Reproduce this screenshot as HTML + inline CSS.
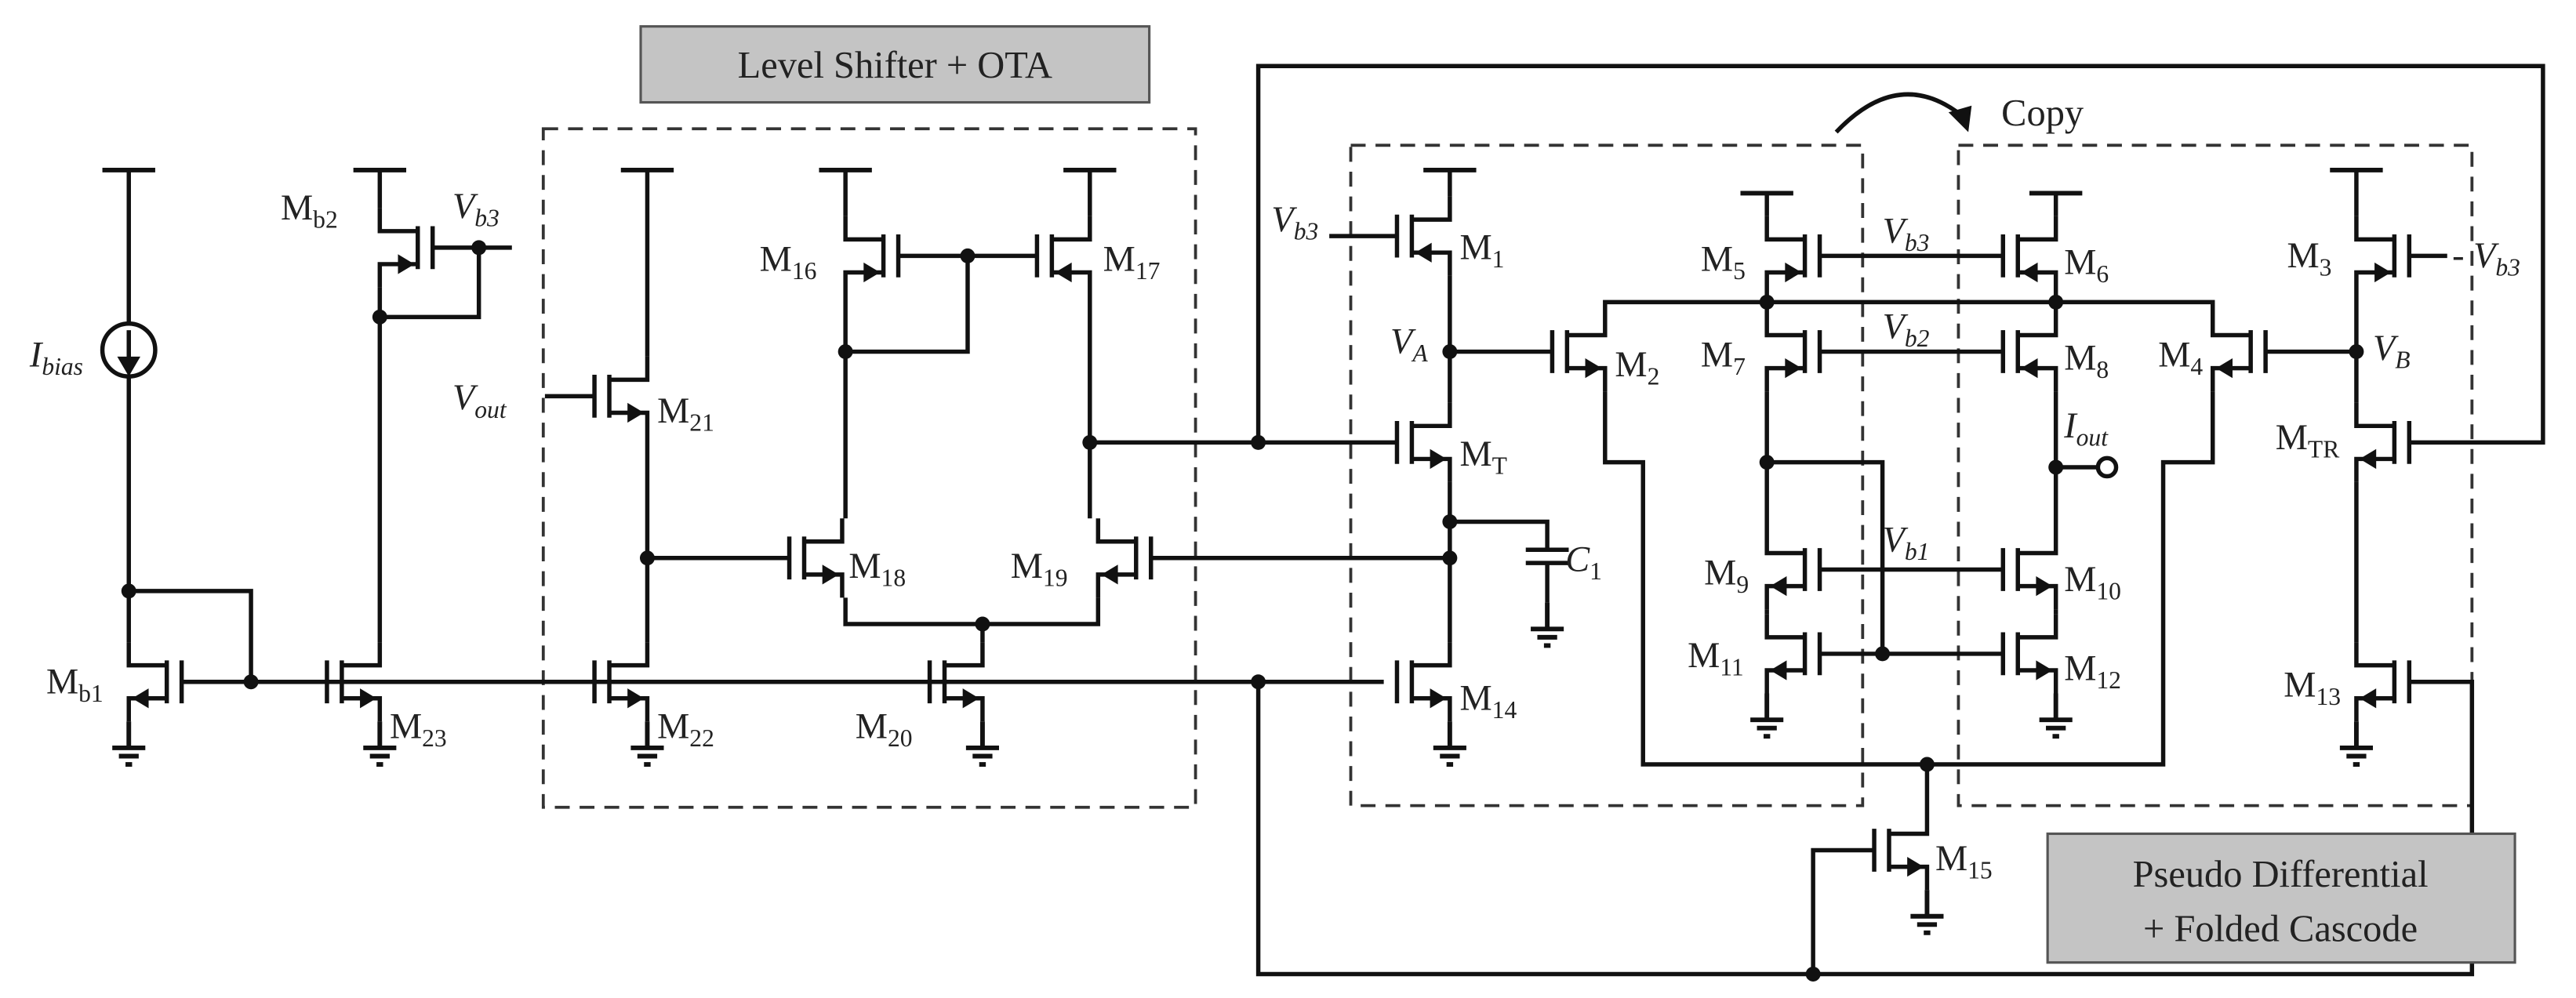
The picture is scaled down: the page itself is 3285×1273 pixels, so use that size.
<!DOCTYPE html>
<html><head><meta charset="utf-8"><style>
html,body{margin:0;padding:0;background:#fff;}
svg{display:block;}
text{font-family:"Liberation Serif",serif;font-size:22px;fill:#222;}
.s{font-size:15px;}
</style></head><body>
<svg width="3285" height="1273" viewBox="0 0 1560 604.5" preserveAspectRatio="none" xmlns="http://www.w3.org/2000/svg">
<defs>
<symbol id="n" overflow="visible"><path d="M0,-13V13M9,-13V13M9,-10H32V-24M9,10H32V24" fill="none" stroke="#111" stroke-width="2.6"/><polygon points="30,10 20,4 20,16" fill="#111"/></symbol>
<symbol id="p" overflow="visible"><path d="M0,-13V13M9,-13V13M9,-10H32V-24M9,10H32V24" fill="none" stroke="#111" stroke-width="2.6"/><polygon points="11,-10 21,-16 21,-4" fill="#111"/></symbol>
<symbol id="g" overflow="visible"><path d="M0,0V16M-10,16H10M-6,21H6M-2,26H2" fill="none" stroke="#111" stroke-width="2.8"/></symbol>
<symbol id="v" overflow="visible"><path d="M-16,0H16" stroke="#111" stroke-width="2.8"/></symbol>
</defs>
<g fill="none" stroke="#111" stroke-width="2.6">
<g stroke-dasharray="9,6" stroke-width="1.8" stroke="#333">
<rect x="329" y="78" width="395" height="411"/>
<rect x="818" y="88" width="310" height="400"/>
<rect x="1186" y="88" width="311" height="400"/>
</g>
<path d="M78,103V196M78,228V389M78,358H152V413M110,413H838"/>
<circle cx="78" cy="212" r="16"/>
<path d="M78,200V220"/>
<path d="M230,103V126M230,174V389M230,192H290V150M262,150H310"/>
<path d="M392,103V216M330,240H360M392,264V389M392,338H478"/>
<path d="M512,131V103M512,179V314M510,213H586V155M544,155H628"/>
<path d="M660,131V103M660,179V314M660,268H846"/>
<path d="M512,362V378H665V362M595,378V389M697,338H880"/>
<path d="M762,268V40H1540V268H1459"/>
<path d="M762,413V590H1497V413H1459"/>
<path d="M1098,590V515H1135"/>
<path d="M878,119V103M805,143H846M878,167V244M878,213H940M878,292V389M878,316H937V333M924,333H950M924,341H950M937,341V365"/>
<path d="M972,189V183H1245M972,237V280H995V463H1310V280H1340V237"/>
<path d="M1070,131V117M1070,179V189M1070,237V321M1070,280H1140V396M1070,369V372"/>
<path d="M1245,131V117M1245,179V189M1245,237V321M1245,283H1270M1245,369V372"/>
<circle cx="1276" cy="283" r="5.5"/>
<path d="M1102,155H1213M1102,213H1213M1102,345H1213M1102,396H1213"/>
<path d="M1340,189V183H1245M1372,213H1427M1427,179V244M1427,131V103M1459,155H1482M1427,292V389"/>
<path d="M1167,463V491"/>
<path d="M1112,80Q1150,40 1188,70"/>
</g>
<polygon points="78,228 71,216 85,216" fill="#111"/>
<polygon points="1192,80 1180,68 1194,64" fill="#111"/>
<use href="#n" transform="translate(110,413) scale(-1,1)"/>
<use href="#n" transform="translate(198,413)"/>
<use href="#p" transform="translate(262,150) scale(-1,-1)"/>
<use href="#n" transform="translate(360,240)"/>
<use href="#n" transform="translate(360,413)"/>
<use href="#p" transform="translate(544,155) scale(-1,-1)"/>
<use href="#p" transform="translate(628,155) scale(1,-1)"/>
<use href="#n" transform="translate(478,338)"/>
<use href="#n" transform="translate(697,338) scale(-1,1)"/>
<use href="#n" transform="translate(563,413)"/>
<use href="#p" transform="translate(846,143) scale(1,-1)"/>
<use href="#n" transform="translate(846,268)"/>
<use href="#n" transform="translate(846,413)"/>
<use href="#n" transform="translate(940,213)"/>
<use href="#p" transform="translate(1102,155) scale(-1,-1)"/>
<use href="#p" transform="translate(1102,213) scale(-1,-1)"/>
<use href="#n" transform="translate(1102,345) scale(-1,1)"/>
<use href="#n" transform="translate(1102,396) scale(-1,1)"/>
<use href="#p" transform="translate(1213,155) scale(1,-1)"/>
<use href="#p" transform="translate(1213,213) scale(1,-1)"/>
<use href="#n" transform="translate(1213,345)"/>
<use href="#n" transform="translate(1213,396)"/>
<use href="#p" transform="translate(1459,155) scale(-1,-1)"/>
<use href="#n" transform="translate(1372,213) scale(-1,1)"/>
<use href="#n" transform="translate(1459,268) scale(-1,1)"/>
<use href="#n" transform="translate(1459,413) scale(-1,1)"/>
<use href="#n" transform="translate(1135,515)"/>
<use href="#v" x="78" y="103"/><use href="#v" x="230" y="103"/><use href="#v" x="392" y="103"/>
<use href="#v" x="512" y="103"/><use href="#v" x="660" y="103"/><use href="#v" x="878" y="103"/>
<use href="#v" x="1070" y="117"/><use href="#v" x="1245" y="117"/><use href="#v" x="1427" y="103"/>
<use href="#g" x="78" y="437"/><use href="#g" x="230" y="437"/><use href="#g" x="392" y="437"/>
<use href="#g" x="595" y="437"/><use href="#g" x="878" y="437"/><use href="#g" x="937" y="365"/>
<use href="#g" x="1070" y="420"/><use href="#g" x="1245" y="420"/><use href="#g" x="1427" y="437"/>
<use href="#g" x="1167" y="539"/>
<g fill="#111">
<circle cx="78" cy="358" r="4.5"/><circle cx="152" cy="413" r="4.5"/><circle cx="230" cy="192" r="4.5"/>
<circle cx="290" cy="150" r="4.5"/><circle cx="392" cy="338" r="4.5"/><circle cx="512" cy="213" r="4.5"/><circle cx="586" cy="155" r="4.5"/>
<circle cx="595" cy="378" r="4.5"/><circle cx="660" cy="268" r="4.5"/><circle cx="762" cy="268" r="4.5"/><circle cx="762" cy="413" r="4.5"/>
<circle cx="878" cy="213" r="4.5"/><circle cx="878" cy="316" r="4.5"/><circle cx="878" cy="338" r="4.5"/>
<circle cx="1070" cy="183" r="4.5"/><circle cx="1245" cy="183" r="4.5"/><circle cx="1070" cy="280" r="4.5"/><circle cx="1245" cy="283" r="4.5"/>
<circle cx="1140" cy="396" r="4.5"/><circle cx="1167" cy="463" r="4.5"/><circle cx="1427" cy="213" r="4.5"/><circle cx="1098" cy="590" r="4.5"/>
</g>
<rect x="388" y="16" width="308" height="46" fill="#c4c4c4" stroke="#555" stroke-width="1.5"/>
<text x="542" y="47" text-anchor="middle" style="font-size:23px">Level Shifter + OTA</text>
<rect x="1240" y="505" width="283" height="78" fill="#c4c4c4" stroke="#555" stroke-width="1.5"/>
<text x="1381" y="537" text-anchor="middle" style="font-size:23px">Pseudo Differential</text>
<text x="1381" y="570" text-anchor="middle" style="font-size:23px">+ Folded Cascode</text>
<text x="1212" y="76" style="font-size:23px">Copy</text>
<text x="28" y="420">M<tspan class="s" dy="5">b1</tspan></text>
<text x="236" y="447">M<tspan class="s" dy="5">23</tspan></text>
<text x="170" y="133">M<tspan class="s" dy="5">b2</tspan></text>
<text x="274" y="132" font-style="italic">V<tspan class="s" dy="5">b3</tspan></text>
<text x="18" y="222" font-style="italic">I<tspan class="s" dy="5">bias</tspan></text>
<text x="274" y="248" font-style="italic">V<tspan class="s" dy="5">out</tspan></text>
<text x="398" y="256">M<tspan class="s" dy="5">21</tspan></text>
<text x="398" y="447">M<tspan class="s" dy="5">22</tspan></text>
<text x="460" y="164">M<tspan class="s" dy="5">16</tspan></text>
<text x="668" y="164">M<tspan class="s" dy="5">17</tspan></text>
<text x="514" y="350">M<tspan class="s" dy="5">18</tspan></text>
<text x="612" y="350">M<tspan class="s" dy="5">19</tspan></text>
<text x="518" y="447">M<tspan class="s" dy="5">20</tspan></text>
<text x="770" y="140" font-style="italic">V<tspan class="s" dy="5">b3</tspan></text>
<text x="884" y="157">M<tspan class="s" dy="5">1</tspan></text>
<text x="842" y="214" font-style="italic">V<tspan class="s" dy="5">A</tspan></text>
<text x="884" y="282">M<tspan class="s" dy="5">T</tspan></text>
<text x="948" y="346" font-style="italic">C<tspan class="s" dy="5" font-style="normal">1</tspan></text>
<text x="884" y="430">M<tspan class="s" dy="5">14</tspan></text>
<text x="978" y="228">M<tspan class="s" dy="5">2</tspan></text>
<text x="1030" y="164">M<tspan class="s" dy="5">5</tspan></text>
<text x="1030" y="222">M<tspan class="s" dy="5">7</tspan></text>
<text x="1032" y="354">M<tspan class="s" dy="5">9</tspan></text>
<text x="1022" y="404">M<tspan class="s" dy="5">11</tspan></text>
<text x="1250" y="166">M<tspan class="s" dy="5">6</tspan></text>
<text x="1250" y="224">M<tspan class="s" dy="5">8</tspan></text>
<text x="1250" y="358">M<tspan class="s" dy="5">10</tspan></text>
<text x="1250" y="412">M<tspan class="s" dy="5">12</tspan></text>
<text x="1250" y="265" font-style="italic">I<tspan class="s" dy="5">out</tspan></text>
<text x="1307" y="222">M<tspan class="s" dy="5">4</tspan></text>
<text x="1437" y="218" font-style="italic">V<tspan class="s" dy="5">B</tspan></text>
<text x="1385" y="162">M<tspan class="s" dy="5">3</tspan></text>
<text x="1378" y="272">M<tspan class="s" dy="5">TR</tspan></text>
<text x="1383" y="422">M<tspan class="s" dy="5">13</tspan></text>
<text x="1172" y="527">M<tspan class="s" dy="5">15</tspan></text>
<text x="1485" y="162" font-style="italic">- V<tspan class="s" dy="5">b3</tspan></text>
<text x="1140" y="147" font-style="italic">V<tspan class="s" dy="5">b3</tspan></text>
<text x="1140" y="205" font-style="italic">V<tspan class="s" dy="5">b2</tspan></text>
<text x="1140" y="334" font-style="italic">V<tspan class="s" dy="5">b1</tspan></text>
</svg>
</body></html>
